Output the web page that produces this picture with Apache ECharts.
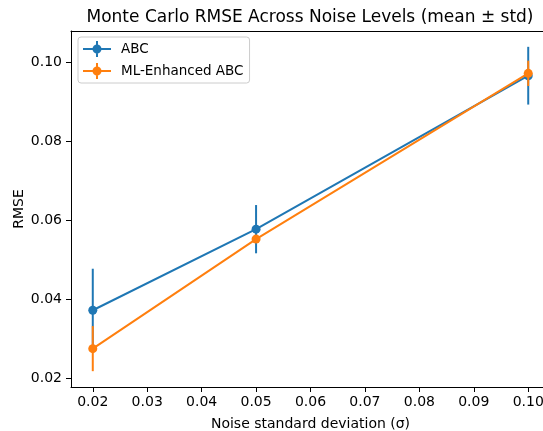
<!DOCTYPE html>
<html>
<head>
<meta charset="utf-8">
<script src="https://cdn.jsdelivr.net/npm/echarts@6/dist/echarts.min.js"></script>
<style>html,body{margin:0;padding:0;background:#fff;}#c{width:543px;height:431px;}</style>
</head>
<body>
<div id="c"></div>
<script>
const noiseLevels = [0.02, 0.05, 0.10];
const abcMean = [0.0373, 0.0578, 0.0966];
const abcStd = [0.0105, 0.0061, 0.0073];
const mlMean = [0.0276, 0.0553, 0.0972];
const mlStd = [0.0057, 0.0010, 0.0032];
const xTicks = [0.02, 0.03, 0.04, 0.05, 0.06, 0.07, 0.08, 0.09, 0.10];
const yTicks = [0.02, 0.04, 0.06, 0.08, 0.10];

const BLUE = '#1f77b4', ORANGE = '#ff7f0e';
const FONT = 'DejaVu Sans';

function pts(mean) { return noiseLevels.map((x, i) => [x, mean[i]]); }
function errs(mean, std) { return noiseLevels.map((x, i) => [x, mean[i] - std[i], mean[i] + std[i]]); }
function errSeries(name, mean, std, color, z) {
  return {
    name: name, type: 'custom', z: z, silent: true,
    data: errs(mean, std),
    renderItem: function (params, api) {
      const p1 = api.coord([api.value(0), api.value(1)]);
      const p2 = api.coord([api.value(0), api.value(2)]);
      return { type: 'line', shape: { x1: p1[0], y1: p1[1], x2: p2[0], y2: p2[1] },
        style: { stroke: color, lineWidth: 2 } };
    }
  };
}
const icon = 'path://M0,7H28V9H0Z M13,0H15V16H13Z M9.5,8A4.5,4.5 0 1,1 18.5,8A4.5,4.5 0 1,1 9.5,8Z';

const chart = echarts.init(document.getElementById('c'), null, { renderer: 'canvas' });
chart.setOption({
  animation: false,
  backgroundColor: '#fff',
  textStyle: { fontFamily: FONT },
  title: {
    text: 'Monte Carlo RMSE Across Noise Levels (mean ± std)',
    left: 305, top: 4, textAlign: 'center',
    textStyle: { fontFamily: FONT, fontSize: 17, fontWeight: 'normal', color: '#000' }
  },
  legend: {
    data: ['ABC', 'ML-Enhanced ABC'],
    orient: 'vertical', left: 78, top: 37,
    itemWidth: 28, itemHeight: 16, itemGap: 6,
    padding: [4, 6, 4, 5],
    backgroundColor: 'rgba(255,255,255,0.8)', borderColor: '#cccccc', borderWidth: 1, borderRadius: 3,
    textStyle: { fontFamily: FONT, fontSize: 13.5, color: '#000', padding: [0, 0, 0, 5] },
    selectedMode: false,
    icon: icon
  },
  grid: { left: 71, top: 31, width: 479, height: 356, outerBoundsMode: 'none', containLabel: false },
  xAxis: [{
    type: 'value', min: 0.016, max: 0.104,
    name: 'Noise standard deviation (σ)', nameLocation: 'middle', nameGap: 30,
    nameTextStyle: { fontFamily: FONT, fontSize: 14, color: '#000' },
    splitLine: { show: false },
    axisLine: { lineStyle: { color: '#000', width: 1 } },
    axisTick: { show: true, length: 5, lineStyle: { color: '#000' }, customValues: xTicks },
    axisLabel: { fontFamily: FONT, fontSize: 14, color: '#000', margin: 8, customValues: xTicks,
      formatter: v => v.toFixed(2) }
  }, {
    type: 'value', min: 0.016, max: 0.104, position: 'top',
    splitLine: { show: false },
    axisLine: { show: true, lineStyle: { color: '#000', width: 1 } },
    axisTick: { show: false }, axisLabel: { show: false }
  }],
  yAxis: {
    type: 'value', min: 0.0179, max: 0.1079,
    name: 'RMSE', nameLocation: 'middle', nameGap: 45, nameRotate: 90, nameMoveOverlap: false,
    nameTextStyle: { fontFamily: FONT, fontSize: 14, color: '#000' },
    splitLine: { show: false },
    axisLine: { show: true, lineStyle: { color: '#000', width: 1 } },
    axisTick: { show: true, length: 5, lineStyle: { color: '#000' }, customValues: yTicks },
    axisLabel: { fontFamily: FONT, fontSize: 14, color: '#000', margin: 9, customValues: yTicks,
      formatter: v => v.toFixed(2) }
  },
  series: [
    errSeries('ABC err', abcMean, abcStd, BLUE, 2),
    { name: 'ABC', type: 'line', z: 3, data: pts(abcMean), color: BLUE,
      symbol: 'circle', symbolSize: 9, lineStyle: { width: 2, color: BLUE },
      itemStyle: { color: BLUE } },
    errSeries('ML err', mlMean, mlStd, ORANGE, 4),
    { name: 'ML-Enhanced ABC', type: 'line', z: 5, data: pts(mlMean), color: ORANGE,
      symbol: 'circle', symbolSize: 9, lineStyle: { width: 2, color: ORANGE },
      itemStyle: { color: ORANGE } }
  ]
});
</script>
</body>
</html>
